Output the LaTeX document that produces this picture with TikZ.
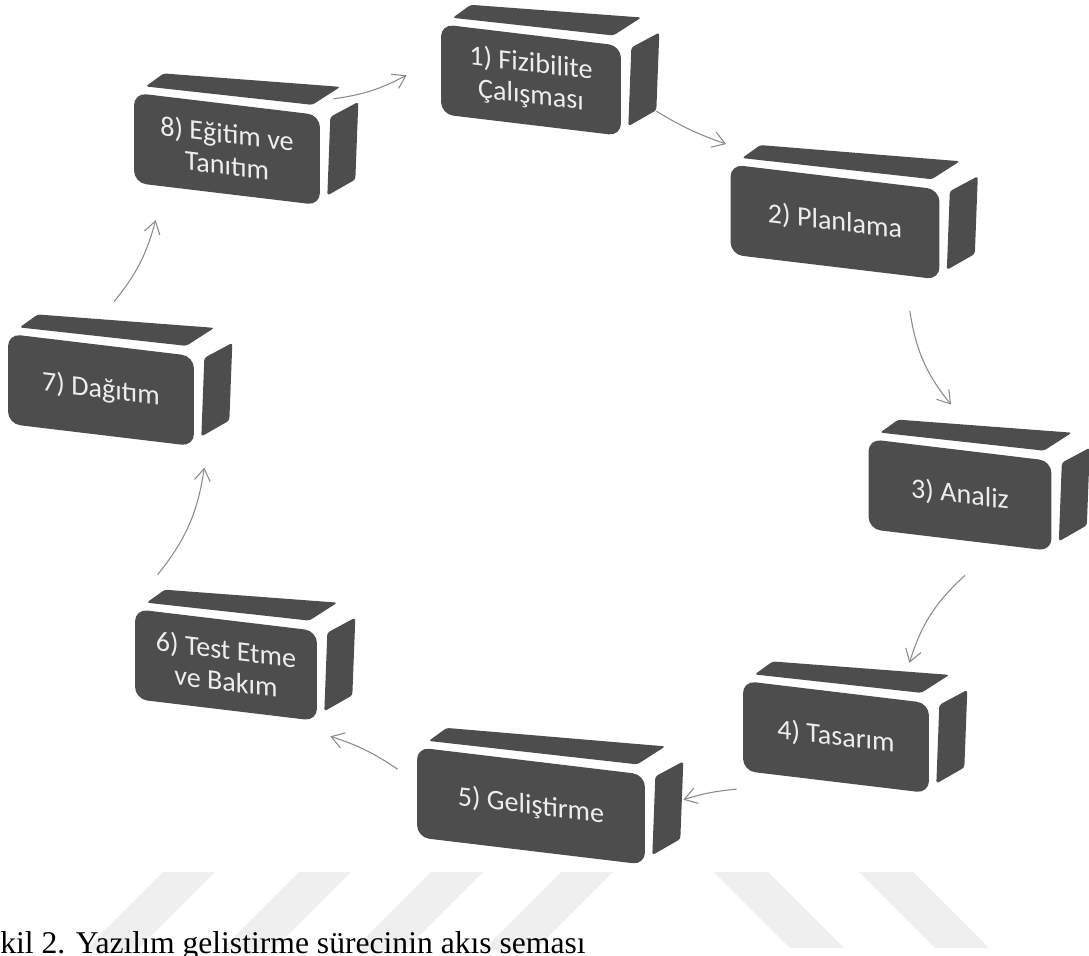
\documentclass[tikz,border=0pt]{standalone}
\usepackage{fontspec}
\newfontfamily\kutufont{Carlito}
\newfontfamily\yazifont{Liberation Serif}
\usetikzlibrary{arrows.meta}
\definecolor{kutu}{HTML}{4D4D4D}
\definecolor{kutuyazi}{HTML}{EDEDED}
\definecolor{okrenk}{HTML}{8A8A8A}
\definecolor{filigran}{HTML}{EFEFEF}

\begin{document}
\begin{tikzpicture}[x=0.02cm, y=-0.02cm,
    blok/.style={rounded corners=7pt, fill=kutu, text=kutuyazi, align=center, minimum height=1.8cm, yslant=-0.12, inner sep=2pt, font=\kutufont\fontsize{16}{18}\selectfont},
    yuz/.style={fill=kutu, rounded corners=1.5pt},
    ok/.style={-{Straight Barb[length=7pt,width=9pt]}, draw=okrenk, line width=0.6pt}]
    \useasboundingbox (0,0) rectangle (1089,956);

    % watermark stripes
    \foreach \x in {163,299,431,561}
        \fill[filigran] (\x,872) -- ++(52,0) -- ++(-78,78) -- ++(-52,0) -- cycle;
    \foreach \x in {714,859}
        \fill[filigran] (\x,872) -- ++(54,0) -- ++(76,76) -- ++(-54,0) -- cycle;

    \node (b1) at (531, 80) [blok, minimum width=3.6cm ] {1) Fizibilite\\Çalışması};
    \node (b2) at (835,222) [blok, minimum width=4.18cm] {2) Planlama};
    \node (b3) at (960,495) [blok, minimum width=3.66cm] {3) Analiz};
    \node (b4) at (836,737) [blok, minimum width=3.72cm] {4) Tasarım};
    \node (b5) at (531,806) [blok, minimum width=4.56cm] {5) Geliştirme};
    \node (b6) at (226,665) [blok, minimum width=3.64cm] {6) Test Etme\\ve Bakım};
    \node (b7) at (101,390) [blok, minimum width=3.72cm] {7) Dağıtım};
    \node (b8) at (227,149) [blok, minimum width=3.72cm] {8) Eğitim ve\\Tanıtım};

    % top and side faces
    \foreach \i in {1,...,8} {
        \fill[yuz] ([shift={(12,-6)}]b\i.north west) -- ([shift={(30,-19)}]b\i.north west)
            -- ([shift={(20,-28)}]b\i.north east) -- ([shift={(-8,-10)}]b\i.north east) -- cycle;
        \fill[yuz] ([shift={(10,2)}]b\i.north east) -- ([shift={(38,-13)}]b\i.north east)
            -- ([shift={(35,-26)}]b\i.south east) -- ([shift={(7,-10)}]b\i.south east) -- cycle;
    }

    % 8 -> 1
    \draw[ok] ([shift={(13,-16)}]b8.north east) to[bend right=10] ([shift={(-34,6)}]b1.west);
    % 1 -> 2
    \draw[ok] ([shift={(35,-25)}]b1.south east) to[bend right=6] ([shift={(-4,-20)}]b2.north west);
    % 2 -> 3
    \draw[ok] ([shift={(-30,31)}]b2.south east) to[bend right=15] ([shift={(-9,-45)}]b3.north);
    % 3 -> 4
    \draw[ok] ([shift={(5,35)}]b3.south) to[bend right=15] ([shift={(-20,-40)}]b4.north east);
    % 4 -> 5
    \draw[ok] ([shift={(-6,18)}]b4.south west) to[bend right=6] ([shift={(38,-20)}]b5.east);
    % 5 -> 6
    \draw[ok] ([shift={(-19,-23)}]b5.west) to[bend right=8] ([shift={(13,15)}]b6.south east);
    % 6 -> 7
    \draw[ok] ([shift={(23,-34)}]b6.north west) to[bend right=15] ([shift={(10,21)}]b7.south east);
    % 7 -> 8
    \draw[ok] ([shift={(13,-43)}]b7.north) to[bend right=12] ([shift={(22,37)}]b8.south west);

    \node (baslik) at (0,953) [anchor=base west, inner sep=0pt, font=\yazifont\fontsize{18}{20}\selectfont] {kil 2. Yazılım gelistirme sürecinin akıs seması};
\end{tikzpicture}
\end{document}
